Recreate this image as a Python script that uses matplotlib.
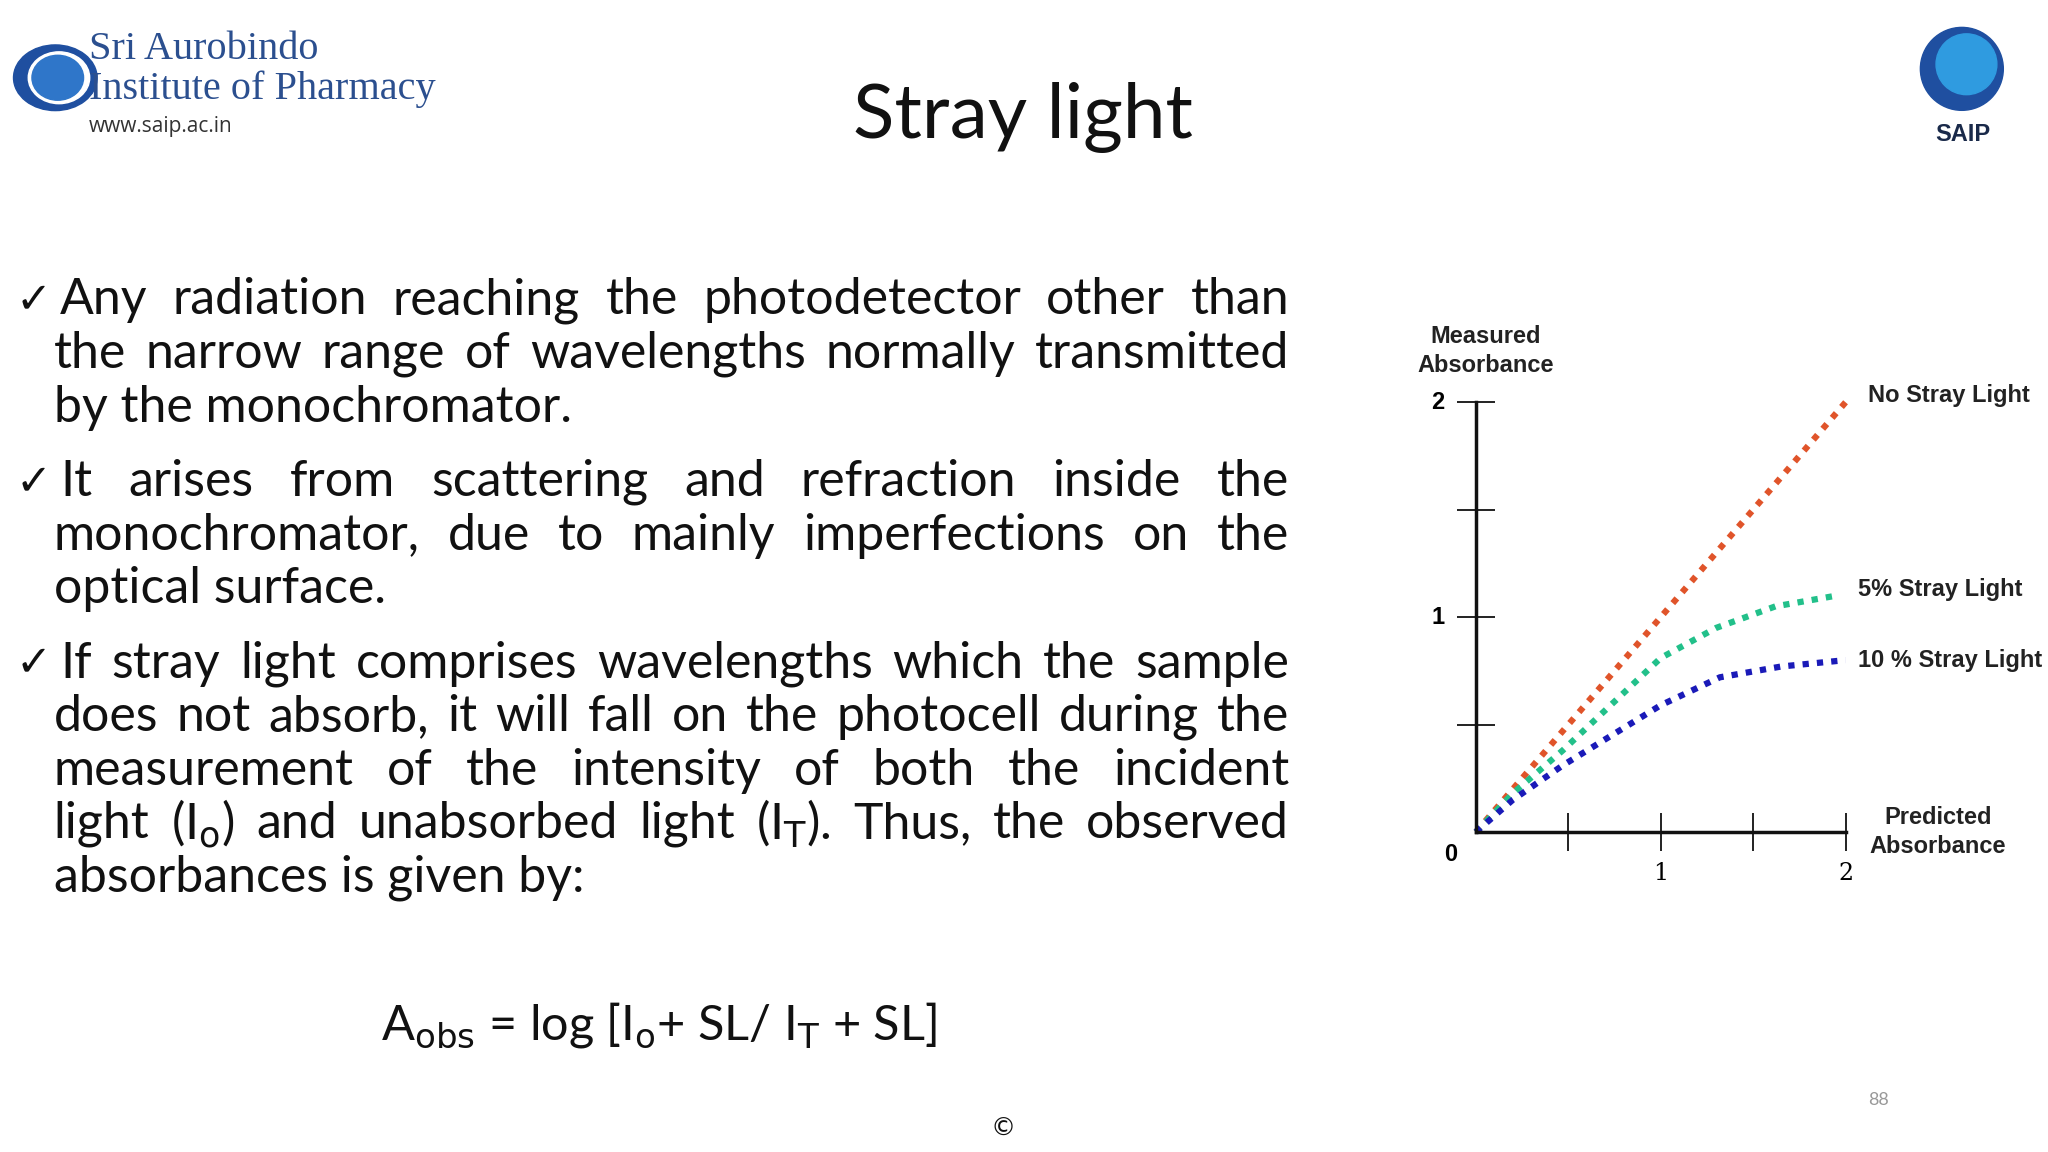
import matplotlib
matplotlib.use("Agg")
import matplotlib.pyplot as plt
from matplotlib.patches import Ellipse, Circle

# ---- data ----
x_none = [0.0, 2.0]
y_none = [0.0, 2.0]
x_5 = [0.0, 0.2, 0.47, 1.0, 1.3, 1.62, 1.95]
y_5 = [0.0, 0.18, 0.38, 0.81, 0.95, 1.05, 1.10]
x_10 = [0.0, 0.2, 0.47, 1.0, 1.32, 1.65, 2.0]
y_10 = [0.0, 0.15, 0.31, 0.59, 0.72, 0.77, 0.80]
x_ticks = [0.5, 1.0, 1.5, 2.0]
y_ticks = [0.5, 1.0, 1.5, 2.0]
x_ticklabels = {1.0: "1", 2.0: "2"}
y_ticklabels = {1.0: "1", 2.0: "2"}
series_labels = ["No Stray Light", "5% Stray Light", "10 % Stray Light"]
colors = ["#e0542a", "#22c08a", "#1a1ab8"]

W, H = 1568, 882
fig = plt.figure(figsize=(20.48, 11.52), dpi=100)
fig.patch.set_facecolor("white")

def fx(x): return x / W
def fy(y): return 1 - y / H

# ---- header ----
fig.text(fx(783), fy(90), "Stray light", fontsize=55, family="Lato", ha="center", va="center", color="#111111")
lax = fig.add_axes([0, 0.85, 0.06, 0.15]); lax.set_xlim(0, 1); lax.set_ylim(0, 1); lax.axis("off")
lax.add_patch(Ellipse((0.45, 0.55), 0.68, 0.38, color="#1f4fa0"))
lax.add_patch(Ellipse((0.48, 0.55), 0.5, 0.3, color="white"))
lax.add_patch(Ellipse((0.47, 0.55), 0.42, 0.26, color="#2f76c9"))
fig.text(fx(68), fy(38), "Sri Aurobindo", fontsize=29, family="Liberation Serif", color="#2b4f8f", va="center")
fig.text(fx(68), fy(68), "Institute of Pharmacy", fontsize=29, family="Liberation Serif", color="#2b4f8f", va="center")
fig.text(fx(68), fy(97), "www.saip.ac.in", fontsize=15, family="Open Sans", color="#333333", va="center")
rax = fig.add_axes([fx(1455), fy(88), 0.06, 0.08]); rax.set_xlim(0, 1); rax.set_ylim(0, 1); rax.axis("off")
rax.set_aspect("equal")
rax.add_patch(Circle((0.5, 0.5), 0.45, color="#1f4fa0"))
rax.add_patch(Circle((0.55, 0.55), 0.33, color="#2f9be0"))
fig.text(fx(1503), fy(103), "SAIP", fontsize=17, family="Liberation Sans", weight="bold", color="#1a2a4a", ha="center", va="center")

# ---- bullet text (justified) ----
fs = 36
fam = "Lato"
lines = [
    (True, "Any radiation reaching the photodetector other than", 230, True),
    (False, "the narrow range of wavelengths normally transmitted", 271, True),
    (False, "by the monochromator.", 312, False),
    (True, "It arises from scattering and refraction inside the", 369, True),
    (False, "monochromator, due to mainly imperfections on the", 410, True),
    (False, "optical surface.", 451, False),
    (True, "If stray light comprises wavelengths which the sample", 508, True),
    (False, "does not absorb, it will fall on the photocell during the", 549, True),
    (False, "measurement of the intensity of both the incident", 590, True),
    (False, r"light (I$_{\mathrm{o}}$) and unabsorbed light (I$_{\mathrm{T}}$). Thus, the observed", 631, True),
    (False, "absorbances is given by:", 672, False),
]
renderer = fig.canvas.get_renderer()
for bullet, txt, y, just in lines:
    x0 = 46 if bullet else 41
    if bullet:
        fig.text(fx(12), fy(y), "\u2713", fontsize=31, family="DejaVu Sans", va="center", color="#111")
    words = txt.split(" ")
    if not just:
        fig.text(fx(x0), fy(y), txt, fontsize=fs, family=fam, va="center", color="#111")
        continue
    arts = [fig.text(0, fy(y), w, fontsize=fs, family=fam, va="center", color="#111") for w in words]
    widths = [a.get_window_extent(renderer).width / fig.bbox.width * W for a in arts]
    gap = (987 - x0 - sum(widths)) / (len(words) - 1)
    cx = x0
    for a, w in zip(arts, widths):
        a.set_x(fx(cx)); cx += w + gap

fig.text(fx(292), fy(785), r"A$_{\mathrm{obs}}$ = log [I$_{\mathrm{o}}$+ SL/ I$_{\mathrm{T}}$ + SL]",
         fontsize=35, family=fam, va="center", color="#111")
fig.text(fx(1438), fy(842), "88", fontsize=13, family=fam, color="#999999", ha="center", va="center")
fig.text(fx(768), fy(864), "\u00a9", fontsize=18, family="DejaVu Sans", ha="center", va="center", color="#111")

# ---- chart ----
ax = fig.add_axes([fx(1130), fy(637), fx(1413) - fx(1130), fy(308) - fy(637)])
ax.set_xlim(0, 2); ax.set_ylim(0, 2)
for s in ["top", "right"]:
    ax.spines[s].set_visible(False)
for s in ["left", "bottom"]:
    ax.spines[s].set_linewidth(2.5); ax.spines[s].set_color("#111")
ax.set_xticks(x_ticks); ax.set_yticks(y_ticks)
ax.tick_params(direction="inout", length=28, width=1.3, color="#111", labelleft=False, labelbottom=False)
ax.patch.set_alpha(0)
for xv, yv, c in zip([x_none, x_5, x_10], [y_none, y_5, y_10], colors):
    ax.plot(xv, yv, linestyle=(0, (1, 1.3)), linewidth=4.5, color=c, clip_on=False)
for v, lab in x_ticklabels.items():
    ax.text(v, -0.14, lab, ha="center", va="top", fontsize=17, family="DejaVu Serif", clip_on=False)
for v, lab in y_ticklabels.items():
    ax.text(-0.17, v, lab, ha="right", va="center", fontsize=17, family="Liberation Sans", weight="bold", clip_on=False)
ax.text(-0.1, -0.05, "0", ha="right", va="top", fontsize=17, family="Liberation Sans", weight="bold", clip_on=False)
lbl_pos = [(2.12, 2.03), (2.07, 1.13), (2.07, 0.80)]
for (lx, ly), lab in zip(lbl_pos, series_labels):
    ax.text(lx, ly, lab, ha="left", va="center", fontsize=17, family="Liberation Sans", color="#222", clip_on=False,
            weight="bold")
ax.text(0.05, 2.12, "Measured\nAbsorbance", ha="center", va="bottom", fontsize=17, family="Liberation Sans",
        weight="bold", color="#222", linespacing=1.3, clip_on=False)
ax.text(2.5, 0.0, "Predicted\nAbsorbance", ha="center", va="center", fontsize=17, family="Liberation Sans",
        weight="bold", color="#222", linespacing=1.3, clip_on=False)

fig.savefig("out.png", dpi=100, facecolor="white")
